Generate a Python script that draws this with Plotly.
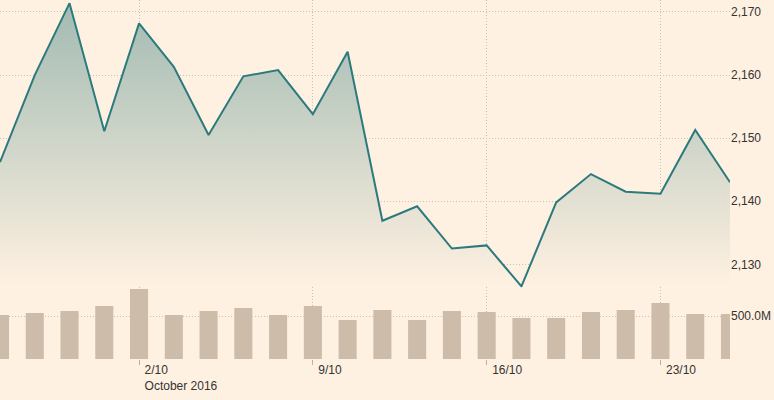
import plotly.graph_objects as go

# Trading-day index (x positions), price and volume readings
day_index = list(range(22))
price = [2146.2, 2160.0, 2171.4, 2151.1, 2168.2, 2161.3, 2150.5, 2159.8, 2160.8, 2153.8,
         2163.7, 2136.9, 2139.2, 2132.5, 2133.0, 2126.5, 2139.8, 2144.3, 2141.5, 2141.2,
         2151.3, 2143.0]
volume_m = [512, 535, 558, 616, 814, 512, 558, 593, 512, 616,
            453, 570, 453, 558, 547, 477, 477, 547, 570, 651,
            523, 523]
x_tick_pos = [4, 9, 14, 19]
x_tick_text = ["2/10<br>October 2016", "9/10", "16/10", "23/10"]
price_ticks = [2130, 2140, 2150, 2160, 2170]
vol_ticks = [500]
vol_tick_text = ["500.0M"]

BG = "#fff1e1"
GRID = "#c9bfb4"
TXT = "#333333"
PRICE_MIN, PRICE_MAX = 2126.37, 2171.9
DOT = "1px,2px"

fig = go.Figure()
fig.add_trace(go.Bar(
    x=day_index, y=[v * 1e6 for v in volume_m], yaxis="y2",
    marker=dict(color="#cdbcaa", line=dict(width=0)), width=0.52,
    hoverinfo="skip",
))
fig.add_trace(go.Scatter(
    x=day_index, y=price, yaxis="y", mode="lines",
    line=dict(color="#2b7a7e", width=2),
    fill="tozeroy",
    fillgradient=dict(type="vertical", start=PRICE_MIN, stop=PRICE_MAX,
                      colorscale=[[0, BG], [1, "#a1bab2"]]),
    hoverinfo="skip",
))

fig.update_layout(
    width=774, height=400,
    margin=dict(l=0, r=44, t=0, b=41),
    paper_bgcolor=BG, plot_bgcolor=BG,
    showlegend=False,
    font=dict(family="Liberation Sans, Arial, sans-serif", size=12, color=TXT),
    xaxis=dict(
        range=[0, 21], anchor="y2",
        tickvals=x_tick_pos, ticktext=x_tick_text,
        ticks="outside", ticklen=5, tickcolor="#bbb0a4",
        ticklabelposition="outside right", ticklabelshift=5,
        showgrid=True, gridcolor=GRID, griddash=DOT, gridwidth=1,
        showline=False, zeroline=False, automargin=False,
        tickfont=dict(size=12, color=TXT),
    ),
    yaxis=dict(
        domain=[0.2, 1], range=[PRICE_MIN, PRICE_MAX], side="right",
        tickvals=price_ticks, tickformat=",", ticks="",
        showgrid=True, gridcolor=GRID, griddash=DOT, gridwidth=1,
        zeroline=False, showline=False, automargin=False,
        tickfont=dict(size=12, color=TXT),
    ),
    yaxis2=dict(
        domain=[0, 0.2], range=[0, 835e6], side="right",
        tickvals=[v * 1e6 for v in vol_ticks], ticktext=vol_tick_text, ticks="",
        showgrid=True, gridcolor=GRID, griddash=DOT, gridwidth=1,
        zeroline=False, showline=False, automargin=False,
        tickfont=dict(size=12, color=TXT),
    ),
    bargap=0.48,
)

fig.write_html("out.html", config={"displayModeBar": False, "staticPlot": True},
               post_script="document.body.style.margin='0';")
